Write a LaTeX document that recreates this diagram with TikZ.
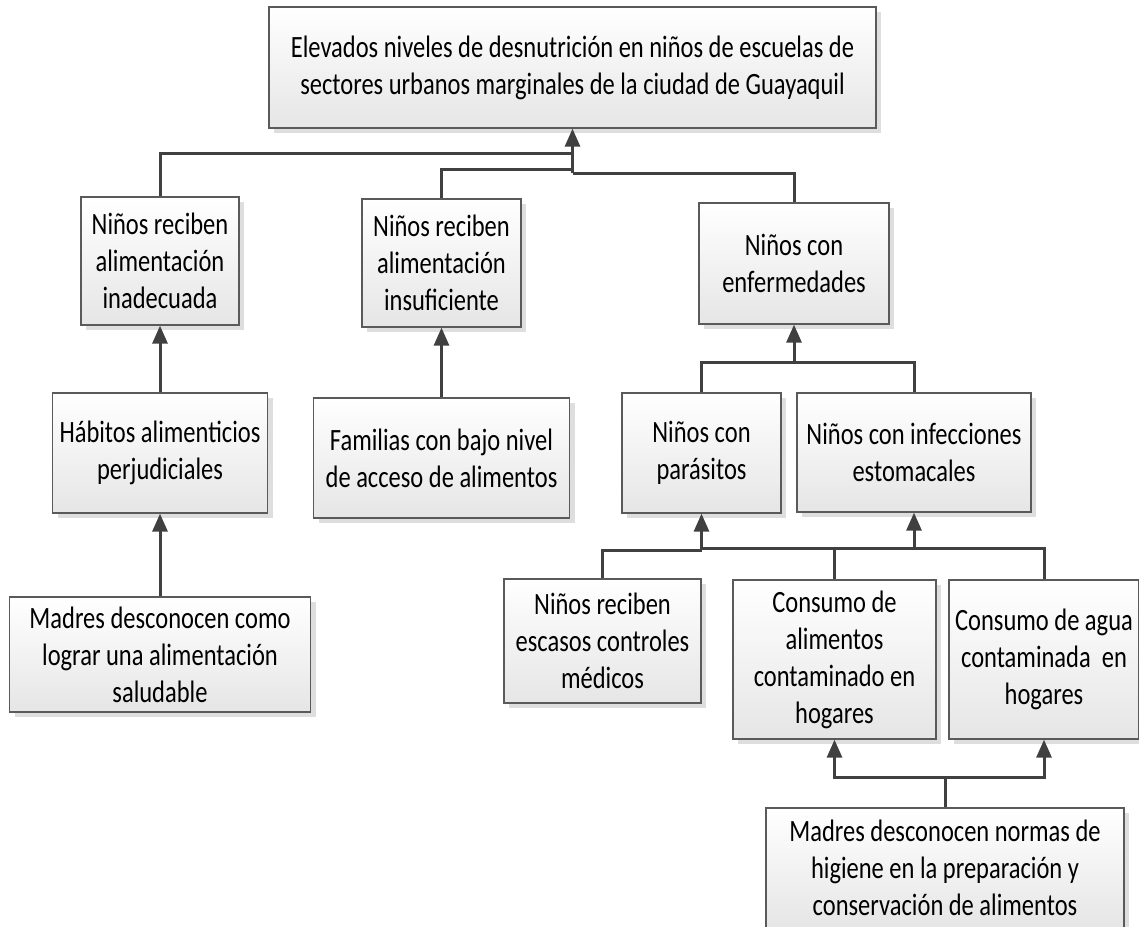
\documentclass[tikz,border=0pt]{standalone}
\usepackage{fontspec}
\setmainfont{Carlito}[FakeStretch=0.79]
\usetikzlibrary{shadows,arrows.meta}
\definecolor{linecol}{HTML}{404040}
\definecolor{bordercol}{HTML}{5A5A5A}
\begin{document}
\begin{tikzpicture}[x=1pt,y=-1pt,
  box/.style={draw=bordercol, line width=1.3pt, top color=white, bottom color=black!10,
    drop shadow={shadow xshift=5pt,shadow yshift=-5pt,fill=black!13,opacity=1},
    align=center, inner sep=0pt, font=\fontsize{31}{37}\selectfont},
  conn/.style={draw=linecol, line width=3pt},
  arr/.style={conn, -{Triangle[length=18pt,width=15pt]}}]
\useasboundingbox (0,0) rectangle (1139,926);
\clip (0,0) rectangle (1139,926);

\node[box, minimum width=607pt, minimum height=121pt] (top) at (572.5,67.5)
  {Elevados niveles de desnutrición en niños de escuelas de\\sectores urbanos marginales de la ciudad de Guayaquil};

\node[box, minimum width=158pt, minimum height=128pt] (b1) at (160,261) {Niños reciben\\alimentación\\inadecuada};
\node[box, minimum width=159pt, minimum height=128pt] (b2) at (441.5,263) {Niños reciben\\alimentación\\insuficiente};
\node[box, minimum width=190pt, minimum height=121pt] (b3) at (794,263.5) {Niños con\\enfermedades};

\node[box, minimum width=215pt, minimum height=120pt] (b4) at (160,453) {Hábitos alimenticios\\perjudiciales};
\node[box, minimum width=256pt, minimum height=120pt] (b5) at (441.5,458) {Familias con bajo nivel\\de acceso de alimentos};
\node[box, minimum width=301pt, minimum height=115pt] (b6) at (160,654.5) {Madres desconocen como\\lograr una alimentación\\saludable};

\node[box, minimum width=159pt, minimum height=120pt] (b7) at (701.5,453) {Niños con\\parásitos};
\node[box, minimum width=234pt, minimum height=119pt] (b8) at (914,452.5) {Niños con infecciones\\estomacales};

\node[box, minimum width=197pt, minimum height=124pt] (b9) at (602.5,641) {Niños reciben\\escasos controles\\médicos};
\node[box, minimum width=203pt, minimum height=159pt] (b10) at (834.5,659.5) {Consumo de\\alimentos\\contaminado en\\hogares};
\node[box, minimum width=190pt, minimum height=159pt] (b11) at (1044,659.5) {Consumo de agua\\contaminada \ en\\hogares};

\node[box, minimum width=358pt, minimum height=120pt] (b12) at (945,868) {Madres desconocen normas de\\higiene en la preparación y\\conservación de alimentos};

% level 1 to top
\coordinate (t1) at (572.5,153);
\coordinate (t2) at (572.5,169);
\coordinate (t3) at (572.5,173);
\draw[conn] (b1.north) |- (t1);
\draw[conn] (b2.north) |- (t2);
\draw[conn] (b3.north) |- (t3);
\draw[arr] (t3) -- (top.south);

% level 2 to level 1
\draw[arr] (b4.north) -- (b1.south);
\draw[arr] (b5.north) -- (b2.south);
\draw[arr] (b6.north) -- (b4.south);

% to enfermedades
\coordinate (e1) at (794,362);
\draw[conn] (b7.north) |- (e1) -| (b8.north);
\draw[arr] (e1) -- (b3.south);

% to parasitos and infecciones
\coordinate (p1) at (701.5,550);
\coordinate (p2) at (701.5,548);
\coordinate (q1) at (834.5,548);
\coordinate (i1) at (914,548);
\draw[conn] (b9.north) |- (p1);
\draw[conn] (b10.north) -- (q1);
\draw[conn] (p2) -- (q1) -- (i1);
\draw[conn] (b11.north) |- (i1);
\draw[arr] (p1) -- (b7.south);
\draw[arr] (i1) -- (b8.south);

% bottom
\coordinate (m1) at (945,777);
\draw[conn] (b12.north) -- (m1);
\draw[arr] (m1) -| (b10.south);
\draw[arr] (m1) -| (b11.south);
\end{tikzpicture}
\end{document}
